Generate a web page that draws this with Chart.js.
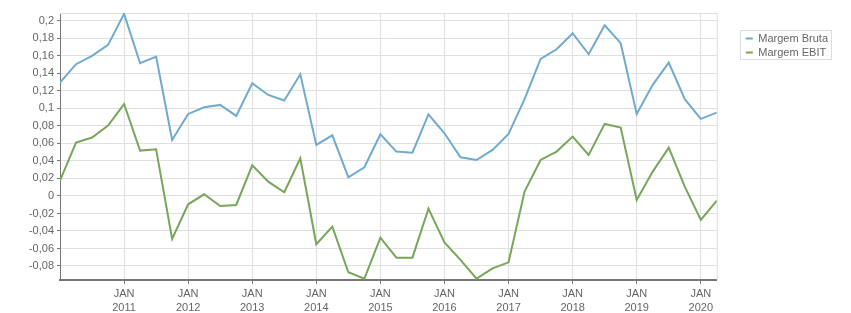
<!DOCTYPE html>
<html>
<head>
<meta charset="utf-8">
<script src="https://cdn.jsdelivr.net/npm/chart.js@4"></script>
<style>
  html, body { margin: 0; padding: 0; background: #fff; }
  #wrap { width: 851px; height: 313px; }
</style>
</head>
<body>
<div id="wrap"><canvas id="margensChart"></canvas></div>
<script>
// trimestres (inicio de cada trimestre)
var periodos = [
  "2010-01", "2010-04", "2010-07", "2010-10",
  "2011-01", "2011-04", "2011-07", "2011-10",
  "2012-01", "2012-04", "2012-07", "2012-10",
  "2013-01", "2013-04", "2013-07", "2013-10",
  "2014-01", "2014-04", "2014-07", "2014-10",
  "2015-01", "2015-04", "2015-07", "2015-10",
  "2016-01", "2016-04", "2016-07", "2016-10",
  "2017-01", "2017-04", "2017-07", "2017-10",
  "2018-01", "2018-04", "2018-07", "2018-10",
  "2019-01", "2019-04", "2019-07", "2019-10",
  "2020-01", "2020-04"
];

var margemBruta = [
  0.1295, 0.1505, 0.160, 0.1726, 0.208, 0.1516, 0.1592, 0.064,
  0.0937, 0.1013, 0.104, 0.0914, 0.1288, 0.1154, 0.109, 0.139,
  0.0583, 0.0693, 0.0213, 0.0328, 0.0705, 0.0507, 0.0495, 0.0933,
  0.0716, 0.0442, 0.0411, 0.0526, 0.0709, 0.1105, 0.1566, 0.1676,
  0.1859, 0.1619, 0.195, 0.1745, 0.0937, 0.1269, 0.1524, 0.1105,
  0.088, 0.0952
];

var margemEbit = [
  0.0175, 0.061, 0.0667, 0.0804, 0.105, 0.0518, 0.0533, -0.0491,
  -0.0095, 0.0019, -0.0114, -0.0103, 0.035, 0.0164, 0.0042, 0.043,
  -0.0552, -0.035, -0.0872, -0.0945, -0.0476, -0.0705, -0.0705, -0.0145,
  -0.053, -0.073, -0.0945, -0.0827, -0.0758, 0.005, 0.0411, 0.0507,
  0.0678, 0.0469, 0.0823, 0.0781, -0.0046, 0.0278, 0.0552, 0.0107,
  -0.0274, -0.0053
];

// tick labels
var anosTicks = [2011, 2012, 2013, 2014, 2015, 2016, 2017, 2018, 2019, 2020];
var mesTick = "JAN";
var yTicks = [-0.08, -0.06, -0.04, -0.02, 0, 0.02, 0.04, 0.06, 0.08, 0.1, 0.12, 0.14, 0.16, 0.18, 0.2];

function toX(p) {
  var parts = p.split("-");
  return Number(parts[0]) + (Number(parts[1]) - 1) / 12;
}

function pontos(values) {
  return values.map(function (v, i) { return { x: toX(periodos[i]), y: v }; });
}

var font = { family: "'Liberation Sans', Arial, sans-serif", size: 11 };

// frame on top/right of the plot + box round the legend
var moldura = {
  id: "moldura",
  afterLayout: function (chart) {
    var lg = chart.legend;
    var w = lg.width, h = lg.height;
    lg.left = chart.chartArea.right + 26;
    lg.right = lg.left + w;
    lg.top = chart.chartArea.top + 17;
    lg.bottom = lg.top + h;
  },
  beforeDatasetsDraw: function (chart) {
    var a = chart.chartArea, ctx = chart.ctx;
    ctx.save();
    ctx.strokeStyle = "#dedede";
    ctx.lineWidth = 1;
    ctx.beginPath();
    ctx.moveTo(a.left, a.top + 0.5);
    ctx.lineTo(a.right + 0.5, a.top + 0.5);
    ctx.lineTo(a.right + 0.5, a.bottom);
    ctx.stroke();
    ctx.restore();
  },
  afterDraw: function (chart) {
    var lg = chart.legend, ctx = chart.ctx;
    ctx.save();
    ctx.font = font.size + "px " + font.family;
    var tw = 0;
    chart.data.datasets.forEach(function (d) { tw = Math.max(tw, ctx.measureText(d.label).width); });
    var x0 = Math.round(lg.left - 3) + 0.5;
    var x1 = Math.round(lg.left + 3 + 7 + 5.5 + tw + 3) + 0.5;
    ctx.strokeStyle = "#dddddd";
    ctx.lineWidth = 1;
    ctx.strokeRect(x0, Math.round(lg.top) + 0.5, x1 - x0, 29);
    ctx.restore();
  }
};

new Chart("margensChart", {
  type: "line",
  data: {
    datasets: [
      {
        label: "Margem Bruta",
        data: pontos(margemBruta),
        borderColor: "#6fabcf",
        backgroundColor: "#6fabcf",
        borderWidth: 2,
        pointRadius: 0,
        tension: 0,
        fill: false
      },
      {
        label: "Margem EBIT",
        data: pontos(margemEbit),
        borderColor: "#78a65a",
        backgroundColor: "#78a65a",
        borderWidth: 2,
        pointRadius: 0,
        tension: 0,
        fill: false
      }
    ]
  },
  options: {
    responsive: true,
    maintainAspectRatio: false,
    animation: false,
    layout: { padding: { left: 0, top: 13, right: 39, bottom: 0 } },
    plugins: {
      legend: {
        position: "right",
        align: "start",
        labels: {
          font: font,
          color: "#666",
          usePointStyle: true,
          pointStyle: "line",
          pointStyleWidth: 7,
          boxHeight: 7,
          padding: 3
        }
      },
      tooltip: { enabled: false }
    },
    scales: {
      x: {
        type: "linear",
        min: 2010,
        max: 2020.25,
        afterBuildTicks: function (scale) {
          scale.ticks = anosTicks.map(function (a) { return { value: a }; });
        },
        afterFit: function (scale) { scale.height = 33; },
        ticks: {
          autoSkip: false,
          maxRotation: 0,
          padding: 3,
          color: "#666",
          font: { family: font.family, size: 11, lineHeight: 1.3 },
          callback: function (value) { return [mesTick, String(value)]; }
        },
        grid: { color: "#e0e0e0", tickColor: "#777", tickLength: 4 },
        border: { color: "#777", width: 2 }
      },
      y: {
        min: -0.096,
        max: 0.209,
        afterBuildTicks: function (scale) {
          scale.ticks = yTicks.map(function (v) { return { value: v }; });
        },
        afterFit: function (scale) { scale.width = 60; },
        ticks: {
          padding: 3,
          color: "#666",
          font: font,
          callback: function (value) {
            return String(Math.round(value * 100) / 100).replace(".", ",");
          }
        },
        grid: { color: "#e0e0e0", tickColor: "#777", tickLength: 3 },
        border: { color: "#777", width: 1 }
      }
    }
  },
  plugins: [moldura]
});
</script>
</body>
</html>
